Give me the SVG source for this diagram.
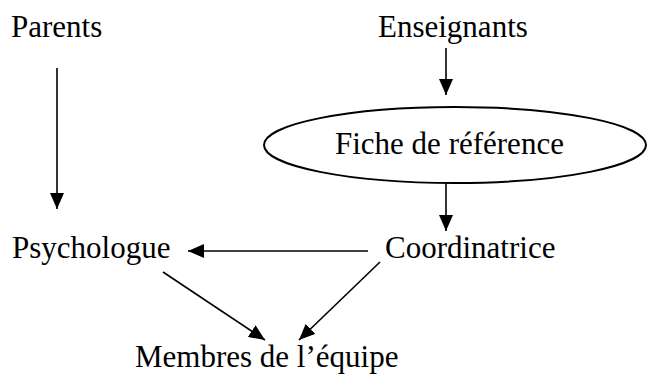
<svg xmlns="http://www.w3.org/2000/svg" width="647" height="375" viewBox="0 0 647 375">
<style>
  .t { font-family: "Liberation Serif", "Times New Roman", serif; font-size: 31px; fill: #000; }
  .c { stroke: #000; stroke-width: 1.6; fill: none; }
</style>
<defs>
  <marker id="ah" markerUnits="userSpaceOnUse" markerWidth="16" markerHeight="14" refX="16" refY="7" orient="auto">
    <path d="M0,0 L16,7 L0,14 z" fill="#000"/>
  </marker>
</defs>
<rect width="647" height="375" fill="#fff"/>
<g id="parents"><text class="t" x="11" y="37">Parents</text></g>
<g id="enseignants"><text class="t" x="378" y="37">Enseignants</text></g>
<g id="fiche">
  <ellipse cx="455" cy="145" rx="191" ry="38" fill="none" stroke="#000" stroke-width="2"/>
  <text class="t" x="335" y="154">Fiche de référence</text>
</g>
<g id="psychologue"><text class="t" x="12" y="258">Psychologue</text></g>
<g id="coordinatrice"><text class="t" x="385" y="258">Coordinatrice</text></g>
<g id="membres"><text class="t" x="135" y="367">Membres de l’équipe</text></g>
<g id="connectors">
  <line class="c" x1="57" y1="68" x2="57" y2="209" marker-end="url(#ah)"/>
  <line class="c" x1="446" y1="48" x2="446" y2="95" marker-end="url(#ah)"/>
  <line class="c" x1="446" y1="183" x2="446" y2="231" marker-end="url(#ah)"/>
  <line class="c" x1="368" y1="251" x2="188" y2="251" marker-end="url(#ah)"/>
  <line class="c" x1="163" y1="272" x2="265" y2="340" marker-end="url(#ah)"/>
  <line class="c" x1="380" y1="262" x2="299" y2="340" marker-end="url(#ah)"/>
</g>
</svg>
